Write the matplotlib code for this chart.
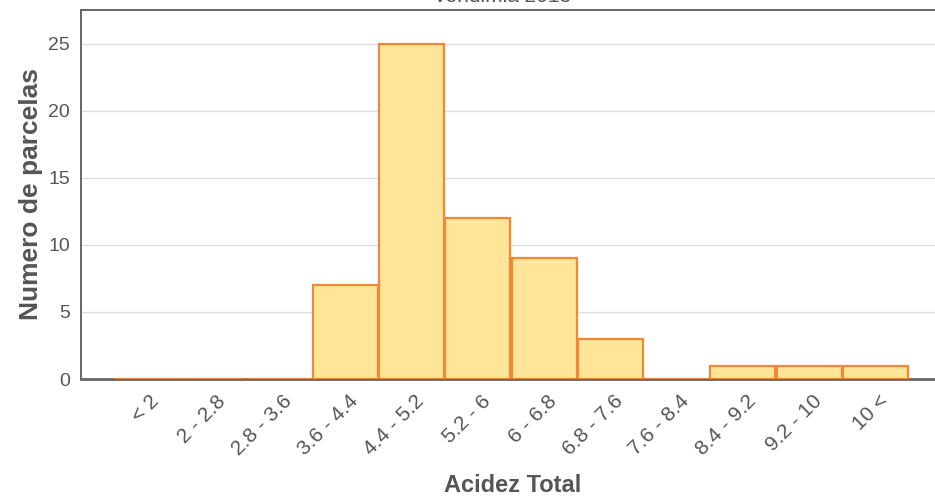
import matplotlib
import matplotlib.pyplot as plt
import matplotlib.transforms as mtransforms
import numpy as np

matplotlib.use('Agg')

# Data
categories = ["< 2", "2 - 2.8", "2.8 - 3.6", "3.6 - 4.4", "4.4 - 5.2", "5.2 - 6",
              "6 - 6.8", "6.8 - 7.6", "7.6 - 8.4", "8.4 - 9.2", "9.2 - 10", "10 <"]
counts = [0, 0, 0, 7, 25, 12, 9, 3, 0, 1, 1, 1]
y_ticks = [0, 5, 10, 15, 20, 25]

plt.rcParams['font.family'] = ['Liberation Sans', 'DejaVu Sans']

fig = plt.figure(figsize=(9.35, 5.01), dpi=100)
ax = fig.add_axes([81 / 935, 122 / 501, 1 - 81 / 935 + 0.01, 369 / 501])

x = np.arange(len(categories))
ax.bar(x, counts, width=0.98, color="#FFE597", edgecolor="#F0883A",
       linewidth=1.6, zorder=3)

ax.set_xlim(-0.99, 12.04)
ax.set_ylim(0, 27.5)

# Grid and spines
ax.set_yticks(y_ticks)
ax.yaxis.grid(True, color="#dddddd", linewidth=1, zorder=0)
for side in ["left", "top", "bottom", "right"]:
    ax.spines[side].set_color("#666666")
    ax.spines[side].set_linewidth(1.4)
ax.spines["bottom"].set_linewidth(2)

ax.tick_params(axis="y", length=0, pad=8, labelsize=14, labelcolor="#555555")
ax.tick_params(axis="x", length=0, pad=9, labelsize=15, labelcolor="#555555")

ax.set_xticks(x)
ax.set_xticklabels(categories, rotation=45, ha="right", rotation_mode="anchor")
offset = mtransforms.ScaledTranslation(3 / 100, 0, fig.dpi_scale_trans)
for lbl in ax.get_xticklabels():
    lbl.set_transform(lbl.get_transform() + offset)

ax.set_ylabel("Numero de parcelas", fontsize=19, fontweight="bold",
              color="#555555", labelpad=4)
ax.set_xlabel("Acidez Total", fontsize=17, fontweight="bold",
              color="#555555", labelpad=11)

# Title sits mostly above the visible area, as in the reference
fig.text(503 / 935, 1.0 + 4 / 501, "vendimia 2013", ha="center", va="center",
         fontsize=15, color="#555555")

fig.savefig("out.png", dpi=100)
